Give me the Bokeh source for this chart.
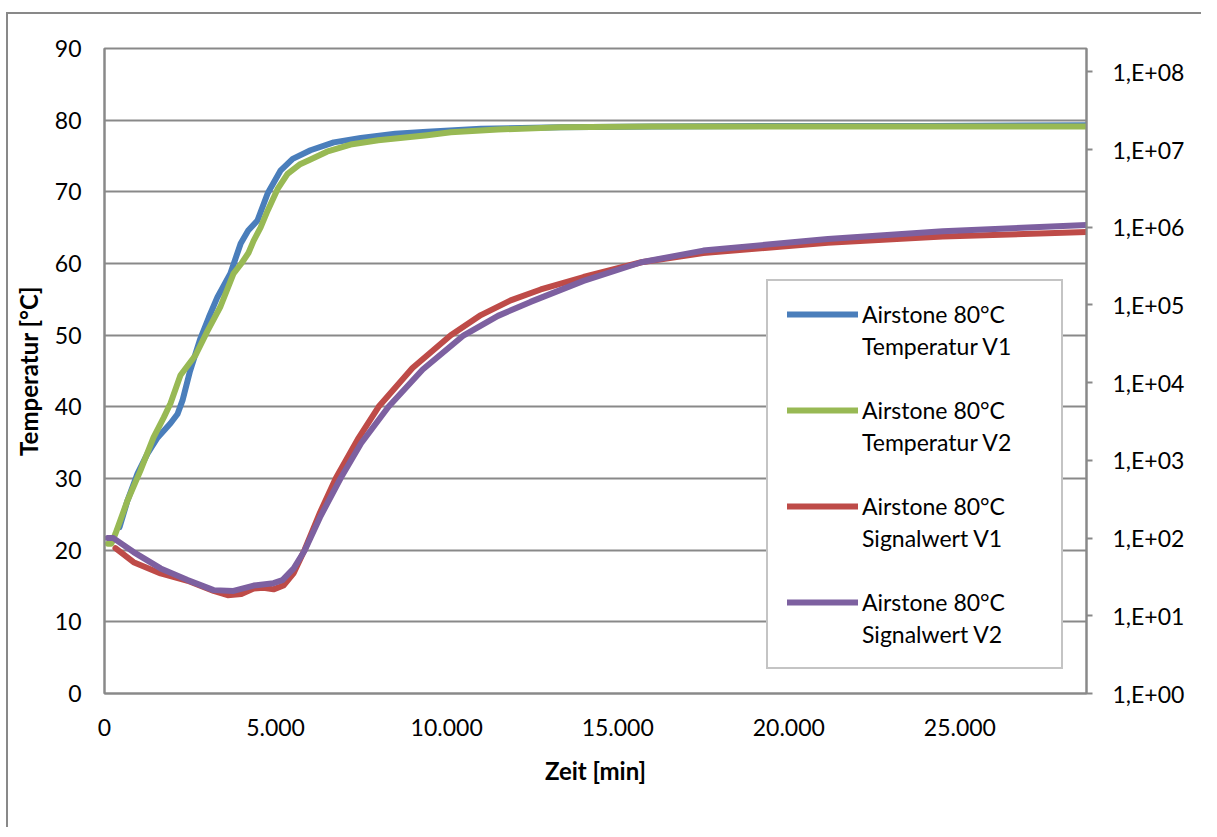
from bokeh.plotting import figure
from bokeh.models import (Range1d, LogScale, LogAxis, FixedTicker,
                          CustomJSTickFormatter, Legend, LegendItem)
from bokeh.embed import file_html
from bokeh.resources import INLINE

# ---------------- data ----------------
time_temp_v1 = [440, 670, 965, 1260, 1550, 1930, 2135, 2280, 2500, 2800, 3050, 3300,
                3680, 3980, 4200, 4470, 4770, 5150, 5500, 6020, 6700, 7490, 8500,
                9430, 11000, 13330, 16000, 20000, 24000, 28700]
temp_v1 = [23.2, 26.9, 30.7, 33.5, 35.7, 37.7, 39.0, 40.9, 45.0, 49.5, 52.5, 55.3,
           58.6, 62.8, 64.6, 66.0, 69.8, 73.0, 74.6, 75.8, 76.9, 77.5, 78.1,
           78.4, 78.8, 79.0, 79.1, 79.2, 79.2, 79.3]

time_temp_v2 = [100, 200, 320, 670, 1050, 1430, 1730, 1930, 2220, 2660, 3000, 3390,
                3770, 4000, 4210, 4360, 4560, 4770, 5060, 5350, 5700, 6020, 6500,
                7190, 8000, 9430, 10120, 11500, 13330, 16000, 20000, 24000, 28700]
temp_v2 = [20.9, 20.9, 22.3, 26.9, 31.1, 35.7, 38.5, 40.5, 44.4, 47.2, 50.5, 54.0,
           58.6, 60.0, 61.5, 63.2, 65.0, 67.4, 70.4, 72.5, 73.8, 74.5, 75.6,
           76.6, 77.2, 77.9, 78.3, 78.7, 79.0, 79.1, 79.1, 79.1, 79.1]

time_sig_v1 = [320, 850, 1640, 2430, 3190, 3600, 4000, 4360, 4650, 4940, 5230, 5530,
               5850, 6300, 6760, 7400, 8010, 9000, 10120, 11000, 11870, 12750, 14000,
               15690, 17500, 21140, 24500, 28700]
sig_v1 = [74.1, 49.0, 35.1, 28.2, 20.9, 18.4, 19.1, 22.4, 22.9, 21.9, 24.5, 35.5,
          70.8, 214, 589, 1862, 4898, 15490, 40740, 74130, 114800, 158500, 229100,
          354800, 467700, 631000, 758600, 871000]

time_sig_v2 = [90, 260, 850, 1640, 2430, 3190, 3770, 4360, 4940, 5200, 5530, 5850,
               6300, 6900, 7500, 8300, 9300, 10500, 11500, 12450, 14000, 15690,
               17500, 21140, 24500, 28700]
sig_v2 = [100, 100, 66.1, 40.7, 28.8, 21.4, 20.9, 24.5, 26.3, 28.8, 40.7, 69.2,
          186, 589, 1660, 4898, 14790, 40740, 72440, 109600, 204200, 354800,
          501200, 707900, 891300, 1072000]

series_names = ["Airstone 80°C", "Airstone 80°C", "Airstone 80°C", "Airstone 80°C"]
series_subnames = ["Temperatur V1", "Temperatur V2", "Signalwert V1", "Signalwert V2"]
x_ticks = [0, 5000, 10000, 15000, 20000, 25000]
y_ticks = [0, 10, 20, 30, 40, 50, 60, 70, 80, 90]
log_ticks = [1e0, 1e1, 1e2, 1e3, 1e4, 1e5, 1e6, 1e7, 1e8]
x_title = "Zeit [min]"
y_title = "Temperatur [°C]"

# ---------------- styling ----------------
FONT = "Lato"
GREY = "#898989"
BLUE, GREEN, RED, PURPLE = "#4A7EBB", "#98B954", "#BE4B48", "#7D60A0"

W, H = 1195, 815
p = figure(width=W, height=H, output_backend="svg", toolbar_location=None,
           x_range=Range1d(0, 28700), y_range=Range1d(0, 90),
           min_border_left=96, min_border_top=34, min_border_right=117,
           min_border_bottom=136)
p.styles = {"border-left": f"2px solid {GREY}", "border-top": f"2px solid {GREY}",
            "margin-top": "12px", "margin-left": "6px"}
p.extra_y_ranges = {"sig": Range1d(1, 2e8)}
p.extra_y_scales = {"sig": LogScale()}

p.outline_line_color = GREY
p.outline_line_width = 2
p.background_fill_color = "white"
p.border_fill_color = "white"
p.xgrid.visible = False
p.ygrid.ticker = FixedTicker(ticks=y_ticks)
p.ygrid.grid_line_color = GREY
p.ygrid.grid_line_width = 2

# x axis
xa = p.xaxis[0]
xa.ticker = FixedTicker(ticks=x_ticks)
xa.formatter = CustomJSTickFormatter(code="""
    if (tick >= 1000) { return Math.floor(tick/1000) + "." + String(tick % 1000).padStart(3, "0"); }
    return String(tick);
""")
# y axis
ya = p.yaxis[0]
ya.ticker = FixedTicker(ticks=y_ticks)
for ax in (xa, ya):
    ax.axis_line_color = GREY
    ax.axis_line_width = 2
    ax.major_tick_out = 0
    ax.major_tick_in = 0
    ax.minor_tick_out = 0
    ax.minor_tick_in = 0
    ax.major_label_text_font = FONT
    ax.major_label_text_font_size = "23px"
    ax.major_label_text_color = "black"
    ax.axis_label_text_font = FONT
    ax.axis_label_text_font_size = "24px"
    ax.axis_label_text_font_style = "bold"
    ax.axis_label_text_color = "black"
xa.axis_label = x_title
ya.axis_label = y_title
xa.major_label_standoff = 25
ya.major_label_standoff = 23
xa.axis_label_standoff = 17
ya.axis_label_standoff = 9

# right log axis
ra = LogAxis(y_range_name="sig", ticker=FixedTicker(ticks=log_ticks),
             formatter=CustomJSTickFormatter(code="""
    const e = Math.round(Math.log10(tick));
    return "1,E+" + String(e).padStart(2, "0");
"""))
ra.axis_line_color = GREY
ra.axis_line_width = 2
ra.major_tick_out = 6
ra.major_tick_in = 0
ra.major_tick_line_color = GREY
ra.major_tick_line_width = 2
ra.minor_tick_out = 0
ra.minor_tick_in = 0
ra.major_label_text_font = FONT
ra.major_label_text_font_size = "23px"
ra.major_label_text_color = "black"
ra.major_label_standoff = 20
p.add_layout(ra, "right")

LW = 6
r1 = p.line(time_temp_v1, temp_v1, line_color=BLUE, line_width=LW, line_join="round", line_cap="round")
r2 = p.line(time_temp_v2, temp_v2, line_color=GREEN, line_width=LW, line_join="round", line_cap="round")
r3 = p.line(time_sig_v1, sig_v1, line_color=RED, line_width=LW, line_join="round", line_cap="round",
            y_range_name="sig")
r4 = p.line(time_sig_v2, sig_v2, line_color=PURPLE, line_width=LW, line_join="round", line_cap="round",
            y_range_name="sig")

# legend: each entry is two text rows (name row carries the line glyph), blank row between entries
items = []
for i, (nm, sub, r) in enumerate(zip(series_names, series_subnames, [r1, r2, r3, r4])):
    items.append(LegendItem(label=nm, renderers=[r]))
    items.append(LegendItem(label=sub, renderers=[]))
    if i < 3:
        items.append(LegendItem(label=" ", renderers=[]))

legend = Legend(items=items, location=(662, 24), orientation="vertical")
legend.label_text_font = FONT
legend.label_text_font_size = "23px"
legend.label_text_color = "black"
legend.glyph_width = 71
legend.glyph_height = 20
legend.label_height = 28
legend.label_width = 180
legend.label_standoff = 4
legend.padding = 19
legend.spacing = 4
legend.border_line_color = GREY
legend.border_line_width = 2
legend.background_fill_color = "white"
legend.background_fill_alpha = 1
p.add_layout(legend, "center")

open("out.html", "w").write(file_html(p, INLINE))
